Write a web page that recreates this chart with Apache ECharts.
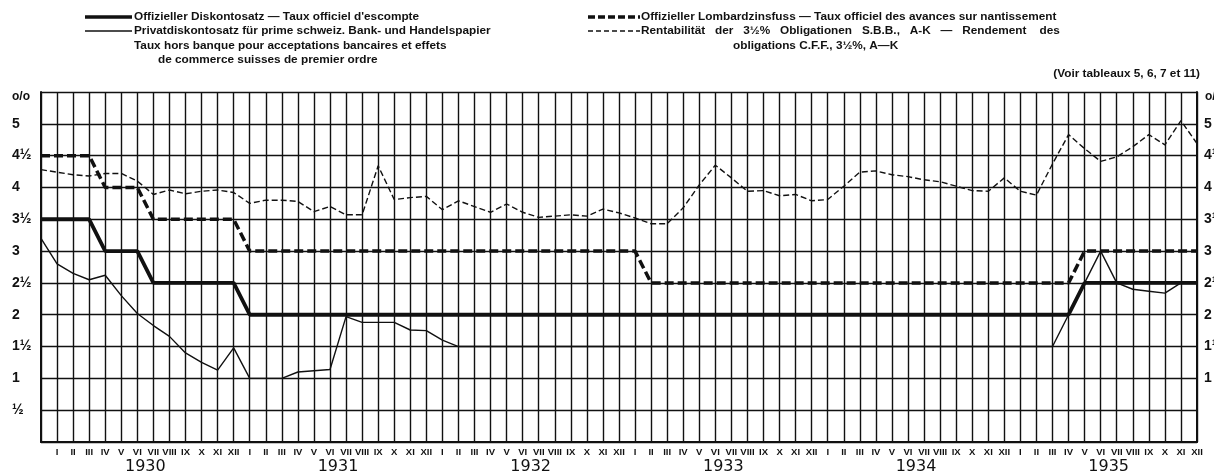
<!DOCTYPE html>
<html>
<head>
<meta charset="utf-8">
<script src="https://cdn.jsdelivr.net/npm/echarts@6/dist/echarts.min.js"></script>
<style>
  html, body { margin: 0; padding: 0; background: #fff; }
  #chart { width: 1214px; height: 473px; }
</style>
</head>
<body>
<div id="chart"></div>
<script>
'use strict';

// months of each year, point 0 is the start value before January 1930
const romans = ['I', 'II', 'III', 'IV', 'V', 'VI', 'VII', 'VIII', 'IX', 'X', 'XI', 'XII'];
const years = ['1930', '1931', '1932', '1933', '1934', '1935'];

const yValues = [0.5, 1, 1.5, 2, 2.5, 3, 3.5, 4, 4.5, 5];
const yTexts = ['½', '1', '1½', '2', '2½', '3', '3½', '4', '4½', '5'];

// Offizieller Diskontosatz
const discount = [
  3.5, 3.5, 3.5, 3.5, 3, 3, 3, 2.5, 2.5, 2.5, 2.5, 2.5, 2.5,
  2, 2, 2, 2, 2, 2, 2, 2, 2, 2, 2, 2,
  2, 2, 2, 2, 2, 2, 2, 2, 2, 2, 2, 2,
  2, 2, 2, 2, 2, 2, 2, 2, 2, 2, 2, 2,
  2, 2, 2, 2, 2, 2, 2, 2, 2, 2, 2, 2,
  2, 2, 2, 2, 2.5, 2.5, 2.5, 2.5, 2.5, 2.5, 2.5, 2.5
];

// Offizieller Lombardzinsfuss
const lombard = [
  4.5, 4.5, 4.5, 4.5, 4, 4, 4, 3.5, 3.5, 3.5, 3.5, 3.5, 3.5,
  3, 3, 3, 3, 3, 3, 3, 3, 3, 3, 3, 3,
  3, 3, 3, 3, 3, 3, 3, 3, 3, 3, 3, 3,
  3, 2.5, 2.5, 2.5, 2.5, 2.5, 2.5, 2.5, 2.5, 2.5, 2.5, 2.5,
  2.5, 2.5, 2.5, 2.5, 2.5, 2.5, 2.5, 2.5, 2.5, 2.5, 2.5, 2.5,
  2.5, 2.5, 2.5, 2.5, 3, 3, 3, 3, 3, 3, 3, 3
];

// Privatdiskontosatz
const privateRate = [
  3.2, 2.8, 2.65, 2.55, 2.62, 2.3, 2.02, 1.83, 1.66, 1.4, 1.25, 1.13, 1.48,
  1, 1, 1, 1.1, 1.12, 1.14, 1.97, 1.88, 1.88, 1.88, 1.76, 1.75,
  1.6, 1.5, 1.5, 1.5, 1.5, 1.5, 1.5, 1.5, 1.5, 1.5, 1.5, 1.5,
  1.5, 1.5, 1.5, 1.5, 1.5, 1.5, 1.5, 1.5, 1.5, 1.5, 1.5, 1.5,
  1.5, 1.5, 1.5, 1.5, 1.5, 1.5, 1.5, 1.5, 1.5, 1.5, 1.5, 1.5,
  1.5, 1.5, 1.5, 2, 2.5, 3, 2.5, 2.4, 2.37, 2.34, 2.5, 2.5
];

// Rentabilität der 3 1/2 % Obligationen S.B.B.
const bonds = [
  4.28, 4.24, 4.2, 4.18, 4.22, 4.22, 4.1, 3.89, 3.96, 3.9, 3.94, 3.96, 3.92,
  3.75, 3.8, 3.8, 3.78, 3.62, 3.7, 3.57, 3.57, 4.34, 3.81, 3.84, 3.86,
  3.65, 3.79, 3.7, 3.61, 3.74, 3.61, 3.53, 3.55, 3.57, 3.55, 3.66, 3.6,
  3.52, 3.43, 3.43, 3.68, 4.04, 4.35, 4.15, 3.94, 3.95, 3.87, 3.89, 3.79,
  3.81, 4.02, 4.24, 4.26, 4.2, 4.17, 4.12, 4.09, 4.02, 3.95, 3.94, 4.15,
  3.94, 3.88, 4.37, 4.83, 4.61, 4.41, 4.48, 4.64, 4.83, 4.67, 5.05, 4.69
];

const monthLabels = [''];
years.forEach(() => romans.forEach(r => monthLabels.push(r)));
const yearSlots = [];
years.forEach(y => romans.forEach((r, i) => yearSlots.push(i === 6 ? y : '')));

const ink = '#111';
const bold = 'Liberation Sans';

const chart = echarts.init(document.getElementById('chart'), null, {renderer: 'canvas'});

function yLabel(v) {
  const i = yValues.indexOf(v);
  return i < 0 ? '' : yTexts[i];
}

function legendText(x, y, text, align) {
  return {
    type: 'text', x: x, y: y,
    style: {text: text, fill: ink, font: 'bold 11.8px "' + bold + '"', align: align || 'left', verticalAlign: 'middle'}
  };
}

function legendLine(x1, x2, y, width, dash) {
  return {
    type: 'line', shape: {x1: x1, y1: y, x2: x2, y2: y},
    style: {stroke: ink, lineWidth: width, lineDash: dash || null}
  };
}

const option = {
  backgroundColor: '#fff',
  animation: false,
  grid: {left: 41, right: 17, top: 92, bottom: 31, containLabel: false, outerBoundsMode: 'none'},
  xAxis: [{
    type: 'category',
    data: monthLabels,
    boundaryGap: false,
    axisLine: {lineStyle: {color: ink, width: 2}},
    axisTick: {show: false},
    axisLabel: {
      interval: 0, margin: 5, color: ink, hideOverlap: false,
      fontFamily: bold, fontWeight: 'bold', fontSize: 9.5
    },
    splitLine: {show: true, interval: 0, lineStyle: {color: ink, width: 1.4}}
  }, {
    type: 'category',
    data: yearSlots,
    position: 'bottom',
    offset: 14,
    boundaryGap: true,
    axisLine: {show: false},
    axisTick: {show: false},
    axisLabel: {interval: 0, color: ink, fontFamily: 'DejaVu Sans', fontSize: 16, margin: 3}
  }],
  yAxis: [{
    type: 'value', min: 0, max: 5.5, interval: 0.5,
    axisLine: {show: true, lineStyle: {color: ink, width: 2}},
    axisTick: {show: false},
    axisLabel: {
      formatter: yLabel, align: 'left', margin: 29, color: ink,
      fontFamily: bold, fontWeight: 'bold', fontSize: 14, padding: [0, 0, 10, 0]
    },
    splitLine: {lineStyle: {color: ink, width: 1.4}}
  }, {
    type: 'value', min: 0, max: 5.5, interval: 0.5, position: 'right',
    axisLine: {show: true, lineStyle: {color: ink, width: 2}},
    axisTick: {show: false},
    axisLabel: {
      formatter: v => (v === 0.5 ? '' : yLabel(v)), align: 'left', margin: 7, color: ink,
      fontFamily: bold, fontWeight: 'bold', fontSize: 14, padding: [0, 0, 10, 0]
    },
    splitLine: {show: false}
  }],
  series: [{
    name: 'Rentabilität', type: 'line', data: bonds, showSymbol: false,
    lineStyle: {color: ink, width: 1.4, type: [6, 3]}, z: 3
  }, {
    name: 'Privatdiskontosatz', type: 'line', data: privateRate, showSymbol: false,
    lineStyle: {color: ink, width: 1.4}, z: 3
  }, {
    name: 'Lombardzinsfuss', type: 'line', data: lombard, showSymbol: false,
    lineStyle: {color: ink, width: 3.5, type: [9, 4]}, z: 4
  }, {
    name: 'Diskontosatz', type: 'line', data: discount, showSymbol: false,
    lineStyle: {color: ink, width: 3.8}, z: 5
  }],
  graphic: [
    legendLine(85, 132, 17, 3.5),
    legendText(134, 17, 'Offizieller Diskontosatz — Taux officiel d\'escompte'),
    legendLine(85, 132, 31, 1.5),
    legendText(134, 31, 'Privatdiskontosatz für prime schweiz. Bank- und Handelspapier'),
    legendText(134, 46, 'Taux hors banque pour acceptations bancaires et effets'),
    legendText(158, 60, 'de commerce suisses de premier ordre'),
    legendLine(588, 640, 17, 3.5, [7, 3]),
    legendText(641, 17, 'Offizieller Lombardzinsfuss — Taux officiel des avances sur nantissement'),
    legendLine(588, 640, 31, 1.3, [5, 3]),
    legendText(641, 31, 'Rentabilität   der   3½%   Obligationen   S.B.B.,   A-K   —   Rendement    des'),
    legendText(733, 46, 'obligations C.F.F., 3½%, A—K'),
    legendText(1200, 74, '(Voir tableaux 5, 6, 7 et 11)', 'right'),
    {type: 'text', x: 12, y: 97, style: {text: 'o/o', fill: ink, font: 'bold 12px "' + bold + '"', verticalAlign: 'middle'}},
    {type: 'text', x: 1205, y: 97, style: {text: 'o/o', fill: ink, font: 'bold 12px "' + bold + '"', verticalAlign: 'middle'}}
  ]
};

chart.setOption(option);
</script>
</body>
</html>
